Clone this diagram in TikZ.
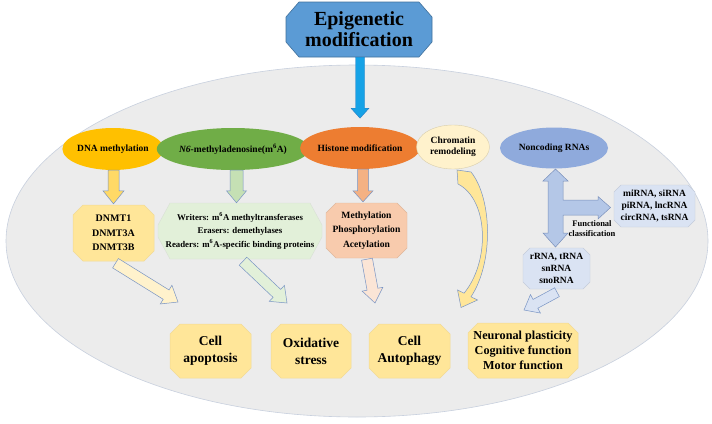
\documentclass[tikz,border=0pt]{standalone}
\usepackage{fontspec}
\setmainfont{Liberation Serif}
\usetikzlibrary{calc,shapes.geometric}
\definecolor{titleblue}{RGB}{91,155,213}
\definecolor{titleedge}{RGB}{65,113,156}
\definecolor{cyanarr}{RGB}{22,162,230}
\definecolor{cyanedge}{RGB}{40,125,195}
\definecolor{bigfill}{RGB}{236,236,236}
\definecolor{bigedge}{RGB}{200,208,222}
\definecolor{dnaor}{RGB}{255,192,0}
\definecolor{ngreen}{RGB}{112,173,71}
\definecolor{histor}{RGB}{237,125,49}
\definecolor{chromcr}{RGB}{255,242,204}
\definecolor{ncblue}{RGB}{143,170,220}
\definecolor{yelarr}{RGB}{255,217,102}
\definecolor{yelbox}{RGB}{255,230,153}
\definecolor{yeledge}{RGB}{242,218,150}
\definecolor{grnarr}{RGB}{197,224,180}
\definecolor{grnbox}{RGB}{226,240,217}
\definecolor{orarr}{RGB}{244,177,131}
\definecolor{orbox}{RGB}{248,203,173}
\definecolor{peach}{RGB}{251,229,214}
\definecolor{lblue}{RGB}{218,227,243}
\definecolor{ncarr}{RGB}{180,199,231}
\definecolor{arredge}{RGB}{120,148,196}
\newcommand{\octbox}[9]{%
  \filldraw[#1] ({#3+#7},#4) -- ({#5-#7},#4) -- (#5,{#4+#8}) -- (#5,{#6-#8}) -- ({#5-#7},#6) -- ({#3+#7},#6) -- (#3,{#6-#8}) -- (#3,{#4+#8}) -- cycle;
  \node[#1 txt, inner sep=0pt, minimum width={#5-#3}, minimum height={#6-#4}, align=center] (#2) at ({(#3+#5)/2},{(#4+#6)/2}) {#9};}
\newcommand{\barrow}[6]{%
  \coordinate (bac) at ($(#3)!#6!(#2)$);
  \filldraw[#1] ($(#2)!#4!90:(#3)$) -- ($(bac)!#4!90:(#3)$) -- ($(bac)!#5!90:(#3)$) -- (#3) -- ($(bac)!#5!-90:(#3)$) -- ($(bac)!#4!-90:(#3)$) -- ($(#2)!#4!-90:(#3)$) -- cycle;}
\begin{document}
\begin{tikzpicture}[x=1pt,y=-1pt,
  ell/.style={ellipse, inner sep=0pt, font=\fontsize{9.5}{11.5}\selectfont\bfseries, align=center},
  titlebox/.style={fill=titleblue, draw=titleedge, line width=0.6pt},
  titlebox txt/.style={font=\fontsize{20}{21}\selectfont\bfseries},
  dnmtbox/.style={fill=yelbox, draw=yeledge, line width=0.5pt},
  dnmtbox txt/.style={font=\fontsize{10}{14.5}\selectfont\bfseries},
  wbox/.style={fill=grnbox, draw=grnbox!85!black!60, line width=0.4pt},
  wbox txt/.style={font=\fontsize{8.8}{13.8}\selectfont\bfseries},
  hbox/.style={fill=orbox, draw=orbox!90!black, line width=0.4pt},
  hbox txt/.style={font=\fontsize{9.6}{14.3}\selectfont\bfseries},
  rbox/.style={fill=lblue, draw=lblue!90!black, line width=0.4pt},
  rbox txt/.style={font=\fontsize{9.5}{11.7}\selectfont\bfseries},
  cellbox/.style={fill=yelbox, draw=yeledge, line width=0.5pt},
  cellbox txt/.style={font=\fontsize{13.5}{17}\selectfont\bfseries},
  neubox/.style={fill=yelbox, draw=yeledge, line width=0.5pt},
  neubox txt/.style={font=\fontsize{12.2}{14.7}\selectfont\bfseries},
  arr/.style={draw=arredge, line width=0.5pt, line join=miter},
  lbl/.style={font=\fontsize{8.5}{10}\selectfont\bfseries, align=center, inner sep=0pt}]
\useasboundingbox (0,0) rectangle (712,423);
\fill[white] (0,0) rectangle (712,423);
% big background ellipse
\filldraw[fill=bigfill, draw=bigedge, line width=0.6pt] (357,241) ellipse [x radius=351, y radius=176];
% title
\octbox{titlebox}{title}{286}{2}{432}{57}{13}{15}{Epigenetic\\modification}
% category ellipses
\node[ell, fill=dnaor, minimum width=93pt, minimum height=42pt] (dna) at (113,149) {DNA methylation};
\node[ell, fill=ngreen, minimum width=137pt, minimum height=42pt] (n6) at (233,149) {\textit{N6}-methyladenosine(m\textsuperscript{6}A)};
\node[ell, fill=histor, minimum width=108pt, minimum height=42pt] (hist) at (360,148) {Histone modification};
\node[ell, fill=chromcr, draw=chromcr!85!black, line width=0.4pt, minimum width=73pt, minimum height=44pt] (chrom) at (453,147) {Chromatin\\remodeling};
\node[ell, fill=ncblue, minimum width=108pt, minimum height=41pt] (ncrna) at (554,148) {Noncoding RNAs};
% boxes
\octbox{dnmtbox}{dnmt}{73}{205}{154}{261}{10}{10}{DNMT1\\DNMT3A\\DNMT3B}
\octbox{wbox}{writers}{158}{203}{322}{259}{12}{22}{Writers: m\textsuperscript{6}A methyltransferases\\Erasers: demethylases\\Readers: m\textsuperscript{6}A-specific binding proteins}
\octbox{hbox}{histbox}{326}{203}{407}{258}{10}{10}{Methylation\\Phosphorylation\\Acetylation}
\octbox{rbox}{mirna}{614}{185}{695}{227}{7}{7}{miRNA, siRNA\\piRNA, lncRNA\\circRNA, tsRNA}
\octbox{rbox}{rrna}{523}{248}{590}{289}{7}{7}{rRNA, tRNA\\snRNA\\snoRNA}
\octbox{cellbox}{apop}{170}{324}{251}{378}{10}{10}{Cell\\apoptosis}
\octbox{cellbox}{oxid}{271}{324}{351}{378}{10}{10}{Oxidative\\stress}
\octbox{cellbox}{auto}{369}{324}{450}{378}{10}{10}{Cell\\Autophagy}
\octbox{neubox}{neuro}{468}{323}{578}{378}{10}{10}{Neuronal plasticity\\Cognitive function\\Motor function}
% title arrow
\coordinate (ta) at ($(title.south)+(1,0)$);
\coordinate (tb) at ($(ta)+(0,61)$);
\barrow{fill=cyanarr, draw=cyanedge, line width=0.4pt}{ta}{tb}{4.5pt}{9pt}{10pt}
% downward arrows
\coordinate (d1) at ($(dna.south)+(0.5,0)$);
\coordinate (d2) at ($(dnmt.north)+(0,-1)$);
\barrow{arr, fill=yelarr}{d1}{d2}{5.5pt}{10.5pt}{13pt}
\coordinate (g1) at ($(n6.south)+(3.5,0)$);
\coordinate (g2) at ($(writers.north)+(-3.5,0)$);
\barrow{arr, fill=grnarr}{g1}{g2}{6.5pt}{10pt}{12pt}
\coordinate (h1) at ($(hist.south)+(3,0)$);
\coordinate (h2) at ($(histbox.north)+(-3.5,-1)$);
\barrow{arr, fill=orarr}{h1}{h2}{5.5pt}{10pt}{11pt}
% diagonal arrows
\coordinate (e1) at ($(dnmt.south)+(2,2)$);
\coordinate (t1) at (178,302);
\barrow{arr, fill=chromcr}{e1}{t1}{5.5pt}{11pt}{14pt}
\coordinate (e2) at ($(writers.south)+(3,2)$);
\coordinate (t2) at (287,303);
\barrow{arr, fill=grnbox}{e2}{t2}{5.5pt}{11pt}{14pt}
\coordinate (e3) at ($(histbox.south)+(0.5,1)$);
\coordinate (t3) at (375,303);
\barrow{arr, fill=peach}{e3}{t3}{5.5pt}{10.5pt}{14pt}
\coordinate (e4) at ($(rrna.south)+(0.5,3)$);
\coordinate (t4) at (524,310);
\barrow{arr, fill=lblue}{e4}{t4}{5pt}{10.5pt}{13pt}
% chromatin curved arrow
\filldraw[arr, fill=yelbox] (457,170) -- (471,172)
  .. controls (492,198) and (494,262) .. (471,296.8)
  -- (477.5,300) -- (461,307.5) -- (457.5,290) -- (464,293.2)
  .. controls (490,262) and (489,200) .. (458,184) -- cycle;
% noncoding RNA three-way arrow
\filldraw[draw=ncblue!85!black, fill=ncarr, line width=0.5pt] (555.5,169) -- (568,181) -- (563,181) -- (563,200) -- (598,200) -- (598,196.5)
  -- (610.5,207.5) -- (598,219) -- (598,215) -- (563,215) -- (563,233) -- (568,233) -- (555.5,247)
  -- (543,233) -- (548,233) -- (548,181) -- (543,181) -- cycle;
\node[lbl] (fc) at (592,229) {Functional\\classification};
\end{tikzpicture}
\end{document}
